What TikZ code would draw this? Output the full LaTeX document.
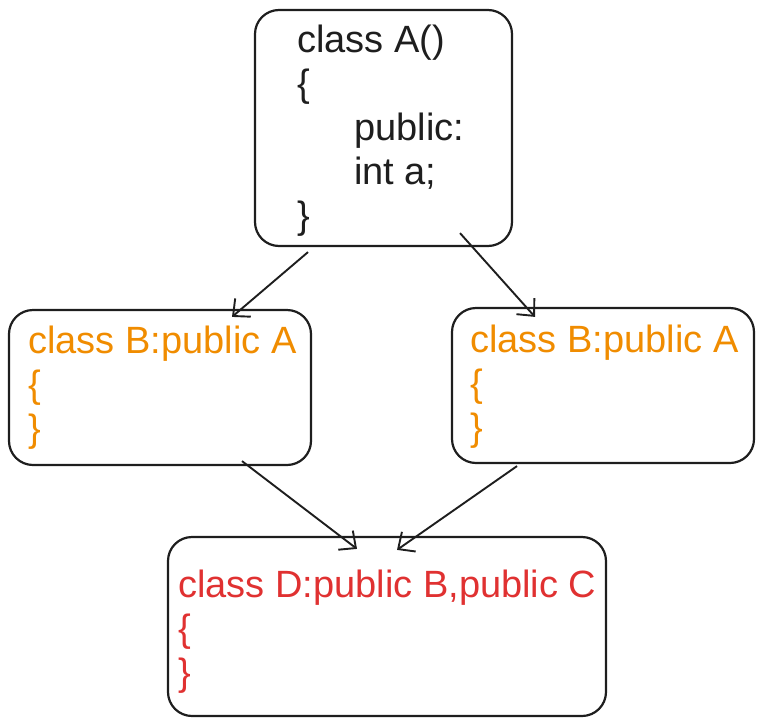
\documentclass[tikz,border=0pt]{standalone}
\usepackage{fontspec}
\setmainfont{Liberation Sans}
\usetikzlibrary{arrows.meta,calc}
\definecolor{ink}{HTML}{1E1E1E}
\definecolor{orng}{HTML}{F08C00}
\definecolor{rd}{HTML}{E03131}
\tikzset{
 box/.style={draw=ink, line width=2.2pt, rounded corners=24pt, inner sep=0pt},
 txt/.style={anchor=base west, inner sep=0pt, font=\fontsize{38}{44}\selectfont},
 link/.style={draw=ink, line width=1.9pt, -{Straight Barb[length=13pt,width=24pt,line width=1.9pt]}},
}
\begin{document}
\begin{tikzpicture}[x=1pt,y=-1pt]
\useasboundingbox (0,0) rectangle (763,726);
\node[box, minimum width=257pt, minimum height=236pt] (A) at (383.5,128) {};
\node[box, minimum width=302pt, minimum height=155pt] (BL) at (160,387.5) {};
\node[box, minimum width=302pt, minimum height=155pt] (BR) at (603,385.5) {};
\node[box, minimum width=438pt, minimum height=179pt] (D) at (387,626.5) {};
% texts of A
\node[txt, text=ink] (a1) at (297,52) {class A()};
\node[txt, text=ink] (a2) at (297,96) {\{};
\node[txt, text=ink] (a3) at (354,140) {public:};
\node[txt, text=ink] (a4) at (354,184) {int a;};
\node[txt, text=ink] (a5) at (297,228) {\}};
% texts of left B
\node[txt, text=orng] (bl1) at (28,353) {class B:public A};
\node[txt, text=orng] (bl2) at (28,397) {\{};
\node[txt, text=orng] (bl3) at (28,441) {\}};
% texts of right B
\node[txt, text=orng] (br1) at (470,352) {class B:public A};
\node[txt, text=orng] (br2) at (470,396) {\{};
\node[txt, text=orng] (br3) at (470,440) {\}};
% texts of D
\node[txt, text=rd] (d1) at (178,597) {class D:public B,public C};
\node[txt, text=rd] (d2) at (178,641) {\{};
\node[txt, text=rd] (d3) at (178,685) {\}};
% connectors
\draw[link] ($(A.south)+(-75.5,5)$) -- ($(BL.north)+(72,8)$);
\draw[link] ($(A.south)+(76.5,-14)$) -- ($(BR.north)+(-68,10)$);
\draw[link] ($(BL.south)+(82,-5)$) -- ($(D.north)+(-30,13)$);
\draw[link] ($(BR.south)+(-86,2)$) -- ($(D.north)+(10,14)$);
\end{tikzpicture}
\end{document}
